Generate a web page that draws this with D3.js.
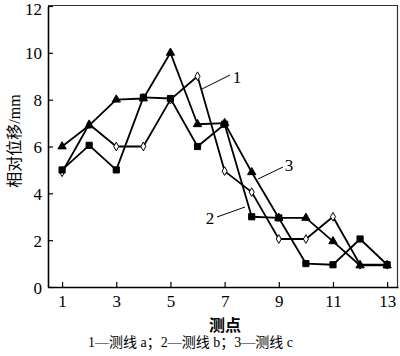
<!DOCTYPE html>
<html><head><meta charset="utf-8">
<script src="https://cdn.jsdelivr.net/npm/d3@7"></script>
<style>body{margin:0;background:#fff}svg{display:block}</style>
</head><body>
<svg id="c" width="400" height="356"></svg>
<script>
const points = [1,2,3,4,5,6,7,8,9,10,11,12,13];
const lineA = [4.9,6.95,6.0,6.0,8.0,9.0,4.95,4.05,2.05,2.05,3.0,0.95,0.95];
const lineB = [5.0,6.05,5.0,8.1,8.05,6.0,6.95,3.0,2.95,1.0,0.95,2.05,0.95];
const lineC = [6.0,6.9,8.0,8.05,10.0,6.95,7.0,4.9,2.95,2.95,1.95,0.92,0.92];
const xTicks = [1,3,5,7,9,11,13];
const yTicks = [0,2,4,6,8,10,12];
const seriesNames = ["测线 a","测线 b","测线 c"];

const svg = d3.select("#c");
const L=48,R=398,T=5,B=287;
const x = d3.scaleLinear().domain([0.48,13.4]).range([L,R]);
const y = d3.scaleLinear().domain([0,12]).range([B,T+1]);
const serif = "Liberation Serif, DejaVu Serif, serif";

// frame
svg.append("line").attr("x1",L).attr("x2",R).attr("y1",T+0.5).attr("y2",T+0.5).attr("stroke","#333").attr("stroke-width",1.2);
svg.append("line").attr("x1",R-0.5).attr("x2",R-0.5).attr("y1",T).attr("y2",B).attr("stroke","#333").attr("stroke-width",1.2);

const xa = svg.append("g").attr("transform",`translate(0,${B})`)
  .call(d3.axisBottom(x).tickValues(xTicks).tickSizeInner(-5).tickSizeOuter(0).tickPadding(8));
const ya = svg.append("g").attr("transform",`translate(${L},0)`)
  .call(d3.axisLeft(y).tickValues(yTicks).tickSizeInner(-5).tickSizeOuter(0).tickPadding(6));
[xa,ya].forEach(g=>{
  g.attr("font-family",serif).attr("font-size",17);
  g.select(".domain").attr("stroke","#000").attr("stroke-width",1.6);
  g.selectAll(".tick line").attr("stroke","#000").attr("stroke-width",1.2);
  g.selectAll(".tick text").style("font-family",serif).attr("font-size",17).attr("fill","#000");
});
xa.selectAll(".tick text").attr("dy","0.72em");
ya.selectAll(".tick text").attr("dy",d=>d===12?"0.5em":"0.36em");

const line = d3.line().x((d,i)=>x(points[i])).y(d=>y(d));
const data = [
  {v:lineA, sym:d3.symbolDiamond, size:22, fill:"#fff"},
  {v:lineB, sym:d3.symbolSquare, size:38, fill:"#000"},
  {v:lineC, sym:d3.symbolTriangle, size:30, fill:"#000"}
];
data.forEach(s=>{
  svg.append("path").attr("d",line(s.v)).attr("fill","none").attr("stroke","#000").attr("stroke-width",1.8).attr("stroke-linejoin","round");
});
data.forEach(s=>{
  svg.selectAll(null).data(s.v).enter().append("path")
    .attr("d",d3.symbol().type(s.sym).size(s.size))
    .attr("transform",(d,i)=>`translate(${x(points[i])},${y(d)})`)
    .attr("fill",s.fill).attr("stroke","#000").attr("stroke-width",1);
});

// annotations
const ann = [
  {t:"1", x1:202,y1:89,x2:230,y2:75, tx:237, ty:77},
  {t:"3", x1:258,y1:179,x2:283,y2:167, tx:289, ty:165},
  {t:"2", x1:245,y1:207,x2:217,y2:217, tx:210, ty:218}
];
ann.forEach(a=>{
  svg.append("line").attr("x1",a.x1).attr("y1",a.y1).attr("x2",a.x2).attr("y2",a.y2).attr("stroke","#000").attr("stroke-width",1);
  svg.append("text").attr("x",a.tx).attr("y",a.ty).attr("dy","0.35em").attr("text-anchor","middle")
    .style("font-family",serif).attr("font-size",17).text(a.t);
});

svg.append("text").attr("x",225).attr("y",325).attr("dy","0.35em").attr("text-anchor","middle")
  .style("font-family","Noto Sans CJK SC, sans-serif").attr("font-weight","bold").attr("font-size",16).text("测点");
svg.append("text").attr("transform","translate(14,141) rotate(-90)").attr("dy","0.35em").attr("text-anchor","middle")
  .style("font-family","Liberation Serif, Noto Sans CJK SC, serif").attr("font-size",16).text("相对位移/mm");
svg.append("text").attr("x",88).attr("y",342).attr("dy","0.35em")
  .style("font-family","Liberation Serif, Noto Sans CJK SC, serif").attr("font-size",14)
  .text(`1—${seriesNames[0]}；2—${seriesNames[1]}；3—${seriesNames[2]}`);
</script>
</body></html>
